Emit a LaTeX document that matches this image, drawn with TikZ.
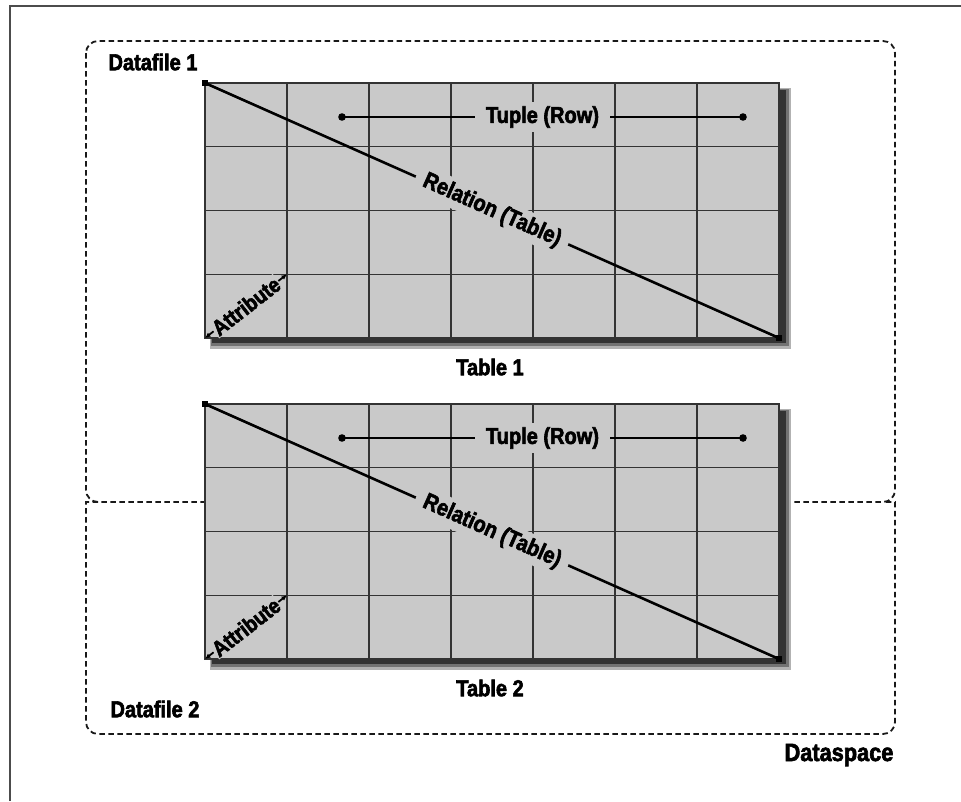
\documentclass[tikz,border=0pt]{standalone}
\usepackage{fontspec}
\setmainfont{Liberation Sans}[FakeStretch=0.87, BoldFeatures={FakeBold=2.5}]
\usepackage{xcolor}
\usetikzlibrary{arrows.meta}

\definecolor{tablegray}{gray}{0.79}

\tikzset{
  tablegrid/.style={draw=black!80, line width=1.3pt},
  filebox/.style={draw=black!90, dash pattern=on 5.5pt off 3.5pt, line width=1.8pt, rounded corners=12pt},
  lbl/.style={font=\bfseries\fontsize{23}{26}\selectfont, inner sep=1pt},
  onlbl/.style={lbl, fill=tablegray, sloped, inner xsep=9pt, inner ysep=4pt}
}

\begin{document}
\begin{tikzpicture}[x=1pt,y=-1pt]
            \fill[white] (0,0) rectangle (961,801);
            \useasboundingbox (0,0) rectangle (961,801);
            % frame of the dataspace
            \draw[black!70, line width=2.2pt] (10,801) -- (10,6) -- (961,6);
            % datafiles
            \draw[filebox] (86,41) rectangle (895,502);
            \draw[filebox] (98,502) .. controls (86,502) .. (86,514) -- (86,734) -- (895,734) -- (895,514) .. controls (895,502) .. (883,502);
            % the two tables
            \foreach \n/\t in {1/83,2/404} {
              \begin{scope}[shift={(205,\t)}]
                \fill[black!30] (5,5) rectangle (586,266);
                \fill[black!55] (6,6) rectangle (584,263);
                \fill[black!80] (7,7) rectangle (581,260);
                \filldraw[fill=tablegray, draw=black!80, line width=1.3pt] (0,0) rectangle (574,255);
                \foreach \c in {1,...,6} \draw[tablegrid] (\c*82,0) -- (\c*82,255);
                \foreach \r in {1,2,3} \draw[tablegrid] (0,\r*63.75) -- (574,\r*63.75);
                \coordinate (tl\n) at (0,0);
                \coordinate (br\n) at (574,255);
                \coordinate (bl\n) at (0,255);
                \coordinate (cell\n) at (82,191.25);
                \coordinate (rowa\n) at (137,34);
                \coordinate (rowb\n) at (538,34);
                \draw[line width=2.6pt] (tl\n) -- node[onlbl] (rel\n) {Relation (Table)} (br\n);
                \fill (tl\n) +(-3,-3) rectangle +(3,3);
                \fill (br\n) +(-3,-3) rectangle +(3,3);
                \draw[line width=2.6pt] (rowa\n) -- node[onlbl, inner xsep=11pt] (tup\n) {Tuple (Row)} (rowb\n);
                \fill (rowa\n) circle (3.8);
                \fill (rowb\n) circle (3.8);
                \draw[line width=1.8pt, {Latex[length=5.5pt,width=5pt]}-{Latex[length=5.5pt,width=5pt]}] (bl\n) -- node[onlbl, font=\bfseries\fontsize{22}{25}\selectfont, inner xsep=1pt, inner ysep=1pt] (att\n) {Attribute} (cell\n);
                \node[lbl] (cap\n) at (285,284) {Table \n};
              \end{scope}
            }
            \node[lbl] (df1) at (153,62) {Datafile 1};
            \node[lbl] (df2) at (155,709) {Datafile 2};
            \node[lbl, font=\bfseries\fontsize{25}{28}\selectfont] (space) at (839,755) {Dataspace};
        \end{tikzpicture}
\end{document}
